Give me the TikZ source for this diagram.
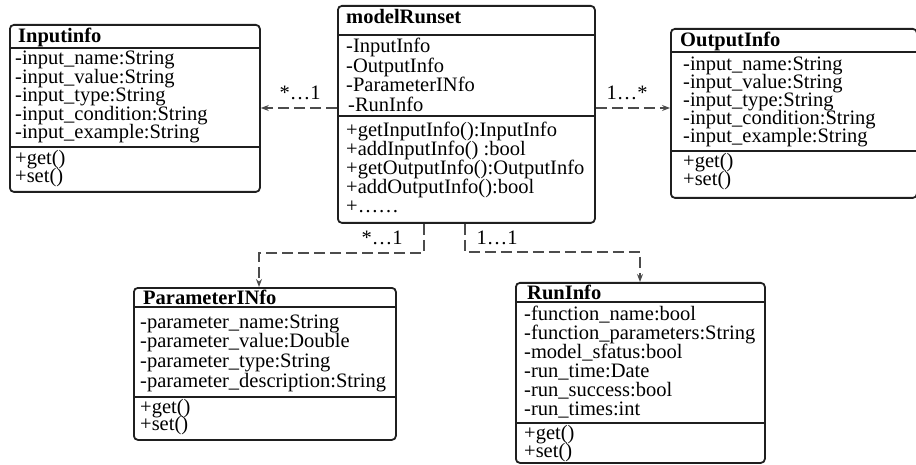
\documentclass[tikz,border=0pt]{standalone}
\usepackage{fontspec}
\setmainfont{Liberation Serif}
\usetikzlibrary{arrows.meta}
\newcommand\rw[1]{\hbox{#1}}
\newcommand\rowsat[2]{\vtop{\baselineskip=#1pt\lineskiplimit=-60pt\lineskip=0pt #2}}
\tikzset{
  classbox/.style={draw=black!88, line width=1.8pt, rounded corners=4pt, anchor=north west, inner sep=0pt},
  divline/.style={draw=black!88, line width=1.8pt},
  txt/.style={anchor=base west, inner sep=0pt, font=\fontsize{20.5}{19}\selectfont},
  ttl/.style={anchor=base west, inner sep=0pt, font=\fontsize{20.5}{19}\selectfont\bfseries},
  conn/.style={draw=black!70, line width=1.1pt, dash pattern=on 11pt off 5pt, -{Stealth[length=8pt,width=6pt]}},
  mult/.style={anchor=base, inner sep=0pt, font=\fontsize{20.5}{19}\selectfont}
}
\begin{document}
\begin{tikzpicture}[x=1pt,y=-1pt]
\useasboundingbox (0,0) rectangle (916,465);

% Inputinfo
\node[classbox, minimum width=250pt, minimum height=167pt] (inp) at (9,24) {};
\draw[divline] (inp.west |- 0,48) -- (inp.east |- 0,48);
\draw[divline] (inp.west |- 0,147) -- (inp.east |- 0,147);
\node[ttl] (inpt) at (18,43) {Inputinfo};
\node[txt] (inpa) at (15,65) {\rowsat{18.5}{\rw{-input\_name:String}\rw{-input\_value:String}\rw{-input\_type:String}\rw{-input\_condition:String}\rw{-input\_example:String}}};
\node[txt] (inpm) at (15,165) {\rowsat{18}{\rw{+get()}\rw{+set()}}};

% modelRunset
\node[classbox, minimum width=257pt, minimum height=217pt] (mrs) at (337,5) {};
\draw[divline] (mrs.west |- 0,35) -- (mrs.east |- 0,35);
\draw[divline] (mrs.west |- 0,116) -- (mrs.east |- 0,116);
\node[ttl] (mrst) at (346,24) {modelRunset};
\node[txt] (mrsa) at (346,53) {\rowsat{19.5}{\rw{-InputInfo}\rw{-OutputInfo}\rw{-ParameterINfo}\rw{\hspace{2pt}-RunInfo}}};
\node[txt] (mrsm) at (346,137) {\rowsat{19}{\rw{+getInputInfo():InputInfo}\rw{+addInputInfo() :bool}\rw{+getOutputInfo():OutputInfo}\rw{+addOutputInfo():bool}\rw{+……}}};

% OutputInfo
\node[classbox, minimum width=246pt, minimum height=169pt] (out) at (670,28) {};
\draw[divline] (out.west |- 0,52) -- (out.east |- 0,52);
\draw[divline] (out.west |- 0,151) -- (out.east |- 0,151);
\node[ttl] (outt) at (680,47) {OutputInfo};
\node[txt] (outa) at (683,71) {\rowsat{18}{\rw{-input\_name:String}\rw{-input\_value:String}\rw{-input\_type:String}\rw{-input\_condition:String}\rw{-input\_example:String}}};
\node[txt] (outm) at (683,168) {\rowsat{18}{\rw{+get()}\rw{+set()}}};

% ParameterINfo
\node[classbox, minimum width=262pt, minimum height=152pt] (par) at (133,287) {};
\draw[divline] (par.west |- 0,307) -- (par.east |- 0,307);
\draw[divline] (par.west |- 0,397) -- (par.east |- 0,397);
\node[ttl] (part) at (143,304) {ParameterINfo};
\node[txt] (para) at (140,328) {\rowsat{19.7}{\rw{-parameter\_name:String}\rw{-parameter\_value:Double}\rw{-parameter\_type:String}\rw{-parameter\_description:String}}};
\node[txt] (parm) at (140,413) {\rowsat{17}{\rw{+get()}\rw{+set()}}};

% RunInfo
\node[classbox, minimum width=249pt, minimum height=180pt] (run) at (515,282) {};
\draw[divline] (run.west |- 0,302) -- (run.east |- 0,302);
\draw[divline] (run.west |- 0,423) -- (run.east |- 0,423);
\node[ttl] (runt) at (527,299) {RunInfo};
\node[txt] (runa) at (524,320) {\rowsat{19}{\rw{-function\_name:bool}\rw{-function\_parameters:String}\rw{-model\_sfatus:bool}\rw{-run\_time:Date}\rw{-run\_success:bool}\rw{-run\_times:int}}};
\node[txt] (runm) at (524,439) {\rowsat{18}{\rw{+get()}\rw{+set()}}};

% connectors
\draw[conn] (mrs.west |- 0,108) -- (inp.east |- 0,108);
\draw[conn] (mrs.east |- 0,108) -- (out.west |- 0,108);
\draw[conn] (424,0 |- mrs.south) -- (424,253) -- (259,253) -- (259,0 |- par.north);
\draw[conn] (465,0 |- mrs.south) -- (465,252) -- (640,252) -- (640,0 |- run.north);

% multiplicities
\node[mult] (m1) at (300,100) {*…1};
\node[mult] (m2) at (627,100) {1…*};
\node[mult] (m3) at (382,245) {*…1};
\node[mult] (m4) at (497,245) {1…1};
\end{tikzpicture}
\end{document}
